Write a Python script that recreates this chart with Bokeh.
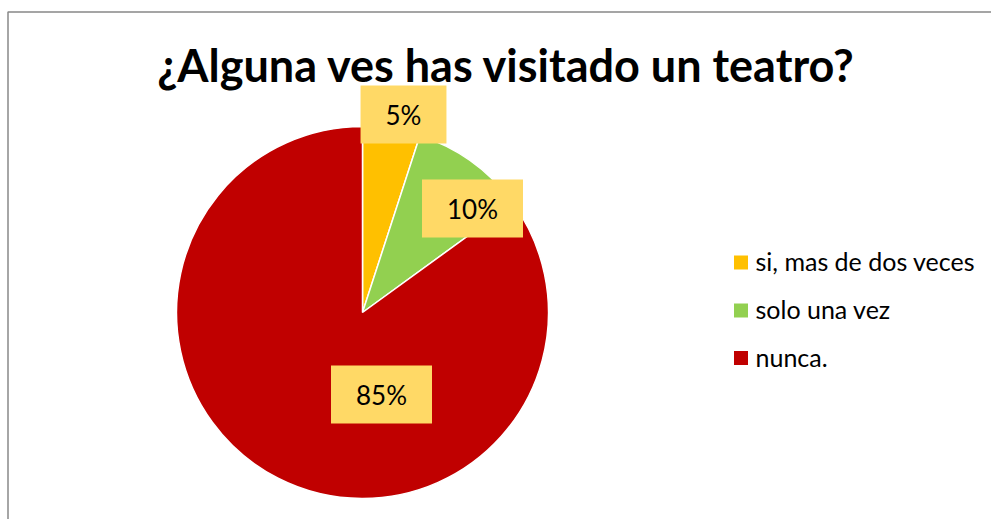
import math
from bokeh.plotting import figure
from bokeh.models import Range1d, BoxAnnotation, ColumnDataSource
from bokeh.core.properties import value
from bokeh.embed import file_html
from bokeh.resources import INLINE

# ---- data ----
title_text = "¿Alguna ves has visitado un teatro?"
categories = ["si, mas de dos veces", "solo una vez", "nunca."]
percent_values = [5, 10, 85]
slice_colors = ["#FFC000", "#92D050", "#C00000"]

# ---- layout (pixel units within the figure) ----
W, H = 991, 519
cx, cy, R = 362, 207, 186
label_offsets = [(41, 198), (110, 104), (19, -82)]
FONT = "Lato"

p = figure(width=W, height=H, output_backend="svg", toolbar_location=None,
           x_range=Range1d(0, W), y_range=Range1d(0, H), min_border=0)
p.axis.visible = False
p.grid.visible = False
p.outline_line_color = None
p.background_fill_color = "white"
p.border_fill_color = "white"

# chart-area frame (right/bottom edges fall outside the visible window)
p.add_layout(BoxAnnotation(left=7.5, top=H - 11.5, right=W + 10, bottom=-10,
                           fill_color=None, fill_alpha=0, line_color="#888888",
                           line_alpha=1.0, line_width=1.5))

# wedges
total = float(sum(percent_values))
starts, ends = [], []
a = math.pi / 2
for v in percent_values:
    starts.append(a)
    a -= v / total * 2 * math.pi
    ends.append(a)
src = ColumnDataSource(dict(x=[cx] * 3, y=[cy] * 3, s=starts, e=ends, c=slice_colors))
p.wedge(x="x", y="y", radius=R, radius_units="screen", start_angle="s", end_angle="e",
        direction="clock", fill_color="c", line_color="white", line_width=1.5, source=src)

# data labels
lab_txt = [f"{v}%" for v in percent_values]
lsrc = ColumnDataSource(dict(x=[cx + dx for dx, dy in label_offsets],
                             y=[cy + dy for dx, dy in label_offsets], t=lab_txt))
p.text(x="x", y="y", text="t", source=lsrc, text_font=value(FONT), text_font_size="26px",
       text_color="black", text_align="center", text_baseline="middle",
       background_fill_color="#FFD966", padding=(25, 25, 13, 13))

# title
p.text(x=[506], y=[H - 64], text=[title_text], text_font=value(FONT), text_font_style="bold",
       text_font_size="45px", text_color="black", text_align="center",
       text_baseline="alphabetic")

# legend
leg_y = [H - 262, H - 310, H - 357.5]
p.rect(x=[740.5] * 3, y=leg_y, width=14, height=14, width_units="screen",
       height_units="screen", fill_color=slice_colors, line_color=None)
p.text(x=[755] * 3, y=[v + 1.5 for v in leg_y], text=categories, text_font=value(FONT),
       text_font_size="25px", text_color="black", text_align="left", text_baseline="middle")

open("out.html", "w").write(file_html(p, INLINE))
